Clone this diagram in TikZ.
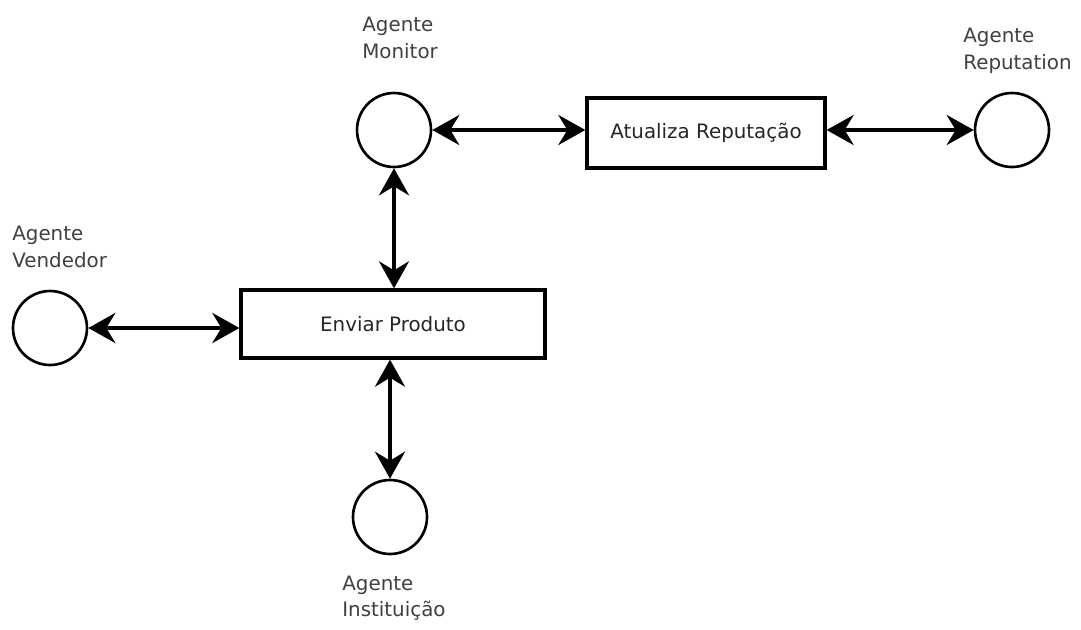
\documentclass[tikz,border=0pt]{standalone}
\usepackage{fontspec}
\setmainfont{DejaVu Sans}
\usetikzlibrary{positioning,calc,arrows.meta}
\tikzset{font=\fontsize{11.3}{15}\selectfont}
\tikzset{
	agente/.style={circle, draw, line width=1.5pt, minimum size=1.48cm, inner sep=0pt},
	caixa/.style={rectangle, draw, line width=1.9pt, inner sep=0pt, text=black!85},
	rotulo/.style={align=left, anchor=west, inner sep=0pt, text=black!75},
	seta/.style={{Stealth[length=5.4mm, width=6mm, inset=1.8mm]}-{Stealth[length=5.4mm, width=6mm, inset=1.8mm]}, line width=2.3pt}
}

\begin{document}
\begin{tikzpicture}[x=0.02cm, y=-0.02cm]
	\useasboundingbox (0, 0) rectangle (1081, 629);
	\begin{scope}
		\node[agente] (a1) at (394, 130) {};
		\node[agente] (a2) at (1012, 130) {};
		\node[agente] (a3) at (50, 328) {};
		\node[agente] (a4) at (390, 517) {};

		\node[caixa, minimum width=4.76cm, minimum height=1.4cm] (c1) at (706, 133) {Atualiza Reputação};
		\node[caixa, minimum width=6.08cm, minimum height=1.36cm] (c2) at (393, 324) {Enviar Produto};

		\node[rotulo] (r1) at (362, 38) {Agente\\Monitor};
		\node[rotulo] (r2) at (963, 51) {Agente\\Reputation};
		\node[rotulo] (r3) at (12, 247) {Agente\\Vendedor};
		\node[rotulo] (r4) at (342, 598) {Agente\\Instituição};

		\draw[seta](a1) -- (a1 -| c1.west);
		\draw[seta](a2 -| c1.east) -- (a2);
		\draw[seta](a1) -- (a1 |- c2.north);
		\draw[seta](a3) -- (a3 -| c2.west);
		\draw[seta](a4 |- c2.south) -- (a4);
	\end{scope}
\end{tikzpicture}
\end{document}
